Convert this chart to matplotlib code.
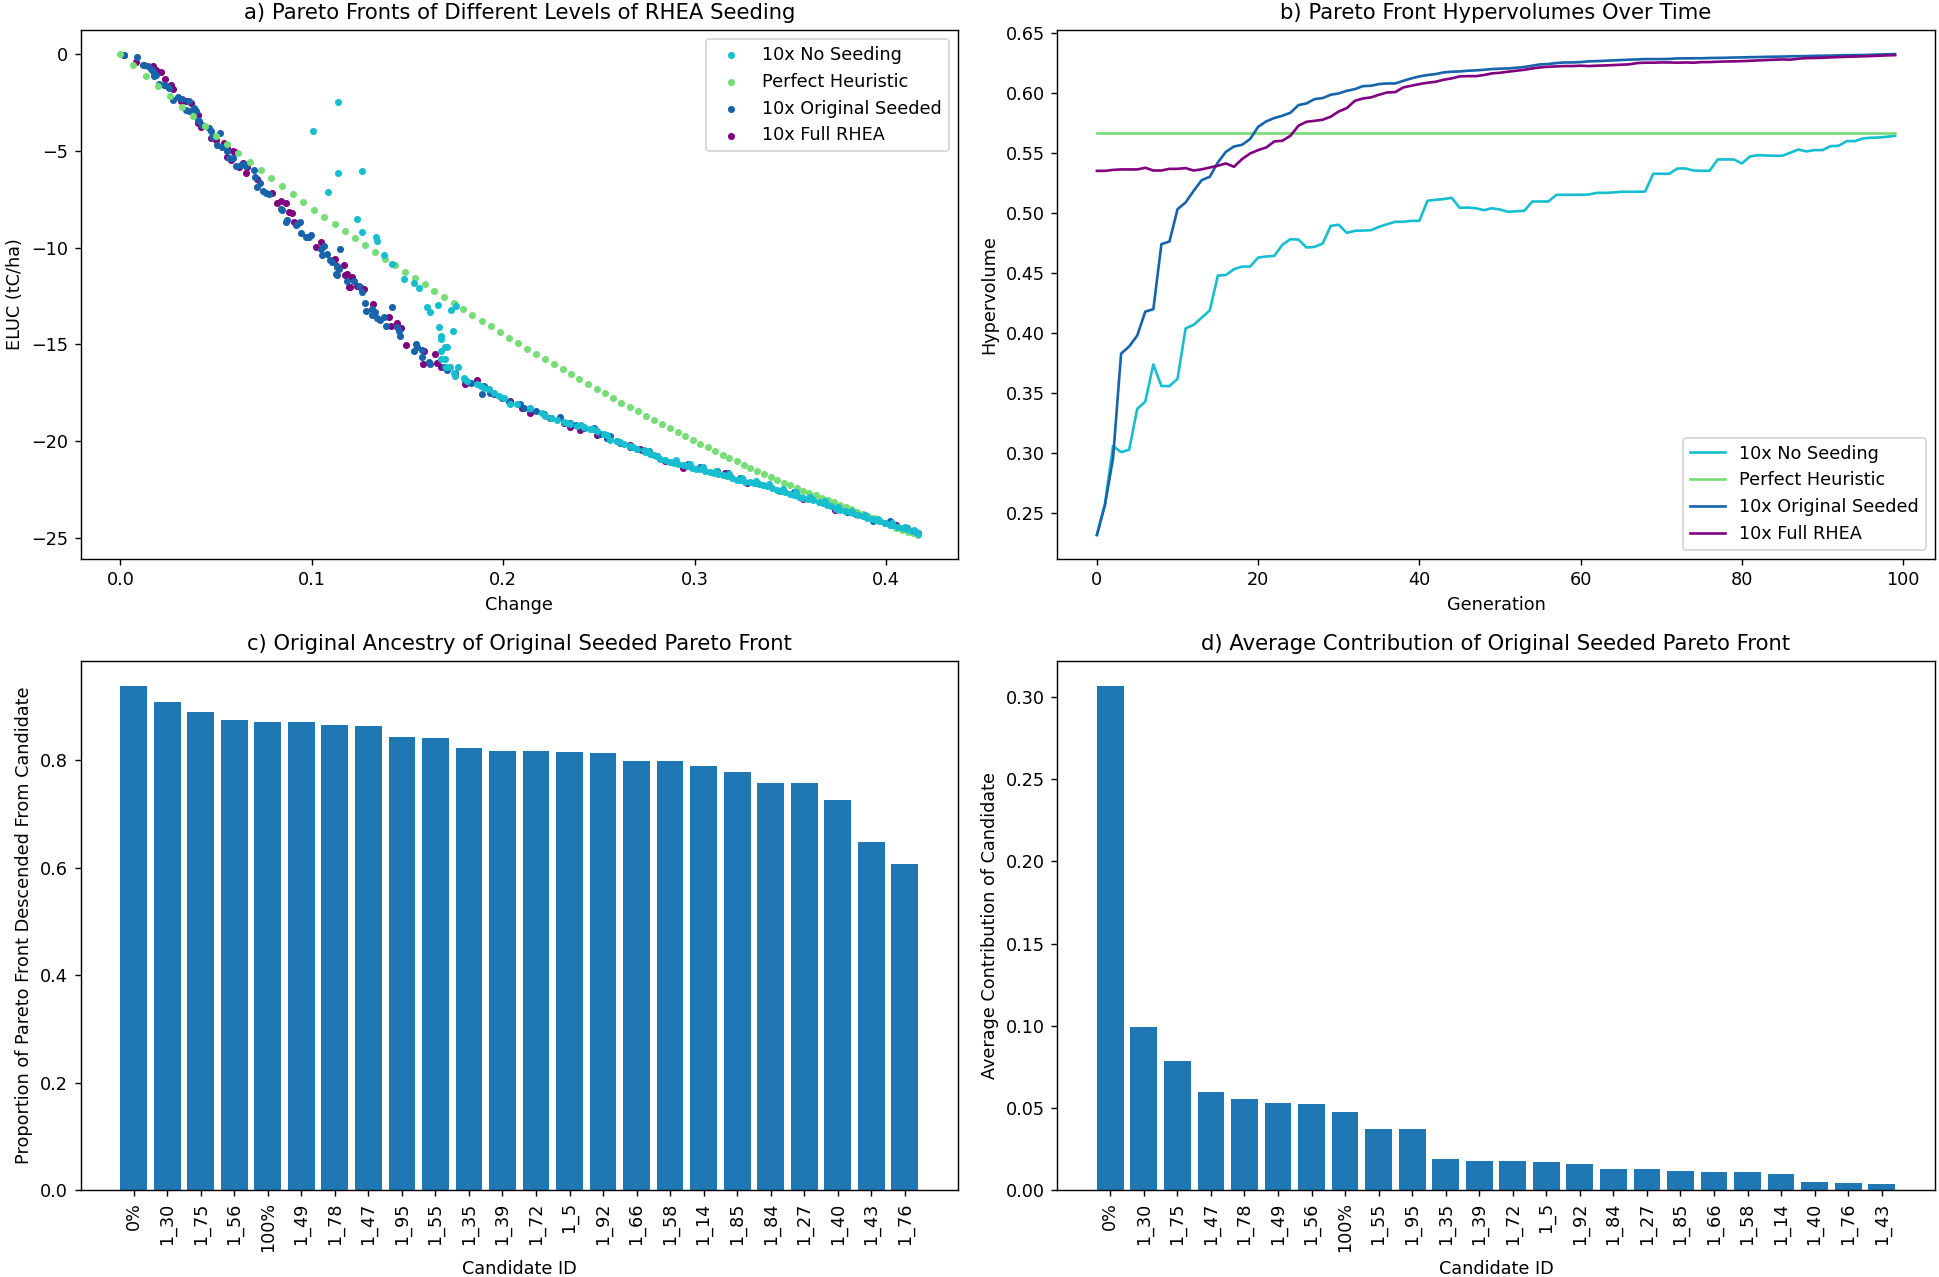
import matplotlib
matplotlib.use("Agg")
import matplotlib.pyplot as plt

# ---------------- Panel a data (Change, ELUC) ----------------
heur_x = [0.0, 0.0068, 0.0133, 0.0198, 0.0261, 0.0321, 0.0382, 0.0441, 0.0499, 0.0559,
          0.0617, 0.0676, 0.0733, 0.0789, 0.0844, 0.0900, 0.0956, 0.1011, 0.1065, 0.1119,
          0.1174, 0.1227, 0.1280, 0.1331, 0.1384, 0.1437, 0.1486, 0.1538, 0.1591, 0.1641,
          0.1692, 0.1742, 0.1791, 0.1839, 0.1888, 0.1937, 0.1984, 0.2032, 0.2078, 0.2125,
          0.2171, 0.2219, 0.2263, 0.2311, 0.2354, 0.2398, 0.2444, 0.2488, 0.2531, 0.2574,
          0.2618, 0.2662, 0.2706, 0.2748, 0.2789, 0.2829, 0.2871, 0.2911, 0.2951, 0.2991,
          0.3031, 0.3071, 0.3107, 0.3146, 0.3182, 0.3220, 0.3257, 0.3292, 0.3328, 0.3363,
          0.3398, 0.3431, 0.3467, 0.3500, 0.3533, 0.3566, 0.3600, 0.3632, 0.3664, 0.3695,
          0.3726, 0.3758, 0.3789, 0.3819, 0.3848, 0.3878, 0.3907, 0.3937, 0.3966, 0.3996,
          0.4026, 0.4055, 0.4085, 0.4113, 0.4140, 0.4168]
heur_y = [0.0, -0.58, -1.15, -1.67, -2.19, -2.71, -3.21, -3.73, -4.21, -4.66,
          -5.13, -5.58, -6.01, -6.42, -6.84, -7.25, -7.65, -8.05, -8.41, -8.79,
          -9.15, -9.52, -9.86, -10.23, -10.57, -10.90, -11.25, -11.58, -11.90, -12.23,
          -12.54, -12.85, -13.18, -13.48, -13.77, -14.07, -14.36, -14.65, -14.93, -15.21,
          -15.48, -15.76, -16.02, -16.28, -16.54, -16.80, -17.05, -17.28, -17.52, -17.76,
          -18.01, -18.23, -18.45, -18.68, -18.91, -19.12, -19.34, -19.53, -19.74, -19.94,
          -20.13, -20.32, -20.51, -20.69, -20.86, -21.03, -21.21, -21.36, -21.53, -21.69,
          -21.84, -22.00, -22.14, -22.28, -22.42, -22.55, -22.67, -22.80, -22.92, -23.04,
          -23.16, -23.28, -23.40, -23.52, -23.64, -23.76, -23.87, -23.99, -24.11, -24.21,
          -24.33, -24.46, -24.56, -24.67, -24.75, -24.84]

noseed_x = [0.1138, 0.1006, 0.1136, 0.1263, 0.1087, 0.1234, 0.1260, 0.1333, 0.1342, 0.1377,
            0.1420, 0.1481, 0.1533, 0.1559, 0.1600, 0.1617, 0.1658, 0.1730, 0.1756, 0.1667,
            0.1738, 0.1676, 0.1676, 0.1695, 0.1707, 0.1673, 0.1676, 0.1695, 0.1699, 0.1724,
            0.1762, 0.1742, 0.1750, 0.1795, 0.1812, 0.1863, 0.1882, 0.1899, 0.1925, 0.1950,
            0.1977, 0.2003, 0.2037, 0.2072, 0.2142, 0.2203, 0.2220, 0.2281, 0.2316, 0.2350,
            0.2386, 0.2420, 0.2454, 0.2490, 0.2525, 0.2559, 0.2595, 0.2629, 0.2664, 0.2699,
            0.2734, 0.2740, 0.2768, 0.2790, 0.2820, 0.2845, 0.2870, 0.2890, 0.2915, 0.2940,
            0.2960, 0.2985, 0.3010, 0.3029, 0.3055, 0.3080, 0.3099, 0.3125, 0.3150, 0.3168,
            0.3195, 0.3220, 0.3238, 0.3265, 0.3290, 0.3308, 0.3335, 0.3360, 0.3377, 0.3405,
            0.3430, 0.3447, 0.3475, 0.3500, 0.3517, 0.3545, 0.3569, 0.3595, 0.3620, 0.3650,
            0.3670, 0.3690, 0.3715, 0.3740, 0.3760, 0.3785, 0.3810, 0.3830, 0.3855, 0.3880,
            0.3899, 0.3925, 0.3950, 0.3969, 0.3995, 0.4020, 0.4038, 0.4065, 0.4090, 0.4108,
            0.4135, 0.4155, 0.4168,
            0.2250, 0.2335, 0.2405, 0.2470, 0.2540, 0.2610, 0.2680, 0.2755, 0.2805, 0.2905,
            0.2975, 0.3045, 0.3110, 0.3180, 0.3250, 0.3320, 0.3390, 0.3460, 0.3530, 0.3605,
            0.3680, 0.3750, 0.3820, 0.3890, 0.3960, 0.4030, 0.4100, 0.4145]
noseed_y = [-2.50, -3.97, -6.13, -6.06, -7.11, -8.53, -9.19, -9.45, -9.67, -10.40,
            -10.87, -11.61, -11.82, -12.08, -13.04, -13.31, -12.98, -13.24, -13.03, -14.12,
            -14.31, -14.55, -14.74, -15.12, -15.12, -15.33, -15.76, -15.76, -16.16, -16.19,
            -16.16, -16.45, -16.62, -16.74, -16.88, -17.06, -17.14, -17.23, -17.31, -17.49,
            -17.66, -17.75, -18.09, -18.06, -18.30, -18.53, -18.70, -18.92, -18.99, -19.10,
            -19.22, -19.27, -19.39, -19.48, -19.65, -19.91, -20.00, -20.13, -20.25, -20.38,
            -20.43, -20.55, -20.66, -20.72, -20.90, -20.98, -21.05, -21.10, -21.18, -21.22,
            -21.28, -21.36, -21.42, -21.45, -21.55, -21.60, -21.64, -21.70, -21.75, -21.80,
            -21.92, -21.98, -22.02, -22.08, -22.12, -22.16, -22.22, -22.28, -22.33, -22.42,
            -22.50, -22.55, -22.63, -22.70, -22.78, -22.86, -22.92, -22.97, -23.02, -23.12,
            -23.20, -23.28, -23.36, -23.48, -23.54, -23.60, -23.66, -23.71, -23.80, -23.88,
            -23.94, -24.02, -24.08, -24.14, -24.22, -24.30, -24.35, -24.42, -24.50, -24.54,
            -24.62, -24.70, -24.77,
            -18.78, -19.05, -19.18, -19.35, -19.70, -20.05, -20.28, -20.50, -20.78, -20.98,
            -21.20, -21.35, -21.52, -21.70, -21.90, -22.05, -22.20, -22.45, -22.62, -22.88,
            -23.10, -23.42, -23.60, -23.82, -24.02, -24.22, -24.45, -24.60]

orig_x = [0.0017, 0.0087, 0.0116, 0.0142, 0.0160, 0.0168, 0.0177, 0.0186, 0.0174, 0.0203,
          0.0229, 0.0246, 0.0255, 0.0273, 0.0299, 0.0324, 0.0360, 0.0342, 0.0360, 0.0386,
          0.0394, 0.0403, 0.0411, 0.0429, 0.0464, 0.0473, 0.0481, 0.0521, 0.0507, 0.0533,
          0.0555, 0.0568, 0.0591, 0.0603, 0.0629, 0.0646, 0.0655, 0.0699, 0.0702, 0.0712,
          0.0730, 0.0747, 0.0759, 0.0777, 0.0837, 0.0846, 0.0863, 0.0873, 0.0916, 0.0938,
          0.0942, 0.0969, 0.0986, 0.0994, 0.1046, 0.1055, 0.1063, 0.1081, 0.1095, 0.1133,
          0.1142, 0.1130, 0.1150, 0.1186, 0.1220, 0.1246, 0.1263, 0.1107, 0.1133, 0.1128,
          0.1276, 0.1281, 0.1316, 0.1330, 0.1316, 0.1342, 0.1359, 0.1377, 0.1386, 0.1417,
          0.1446, 0.1455, 0.1463, 0.1542, 0.1550, 0.1533, 0.1577, 0.1577, 0.1612, 0.1620,
          0.1690, 0.1707, 0.1750, 0.1803, 0.1830, 0.1891, 0.1899, 0.1930, 0.1994, 0.2030,
          0.2090, 0.2107, 0.2142, 0.2170, 0.2212, 0.2250, 0.2299, 0.2350, 0.2380, 0.2420,
          0.2472, 0.2507, 0.2540, 0.2559, 0.2612, 0.2663, 0.2700, 0.2760, 0.2803, 0.2890,
          0.2968, 0.3029, 0.3116, 0.3177, 0.3238, 0.3325, 0.3464, 0.3517, 0.3612, 0.3673,
          0.3760, 0.3795, 0.3934, 0.4021, 0.4108, 0.4168]
orig_y = [-0.03, -0.16, -0.54, -0.60, -0.77, -0.89, -0.98, -1.10, -1.12, -1.55,
          -1.62, -1.67, -1.76, -2.36, -2.22, -2.33, -2.45, -2.88, -2.96, -2.79,
          -2.96, -3.40, -3.48, -3.66, -3.83, -4.00, -4.26, -4.09, -4.69, -4.78,
          -5.00, -5.39, -5.39, -5.78, -5.73, -5.68, -5.78, -5.99, -6.34, -6.86,
          -6.68, -7.06, -7.17, -7.24, -7.98, -8.07, -8.67, -8.58, -8.84, -8.67,
          -9.24, -9.45, -9.45, -9.33, -10.05, -10.40, -9.93, -10.31, -10.66, -11.00,
          -11.09, -11.40, -10.05, -11.73, -11.70, -11.96, -12.30, -10.74, -10.97, -11.38,
          -12.85, -13.25, -13.16, -13.30, -13.48, -13.63, -13.74, -13.56, -14.03, -13.04,
          -14.12, -14.29, -14.55, -14.98, -15.15, -15.36, -15.29, -15.64, -15.93, -16.02,
          -16.19, -16.33, -16.50, -16.85, -17.00, -17.54, -17.14, -17.50, -17.75, -17.95,
          -18.09, -18.27, -18.35, -18.45, -18.61, -18.80, -18.75, -19.04, -19.15, -19.30,
          -19.30, -19.65, -19.85, -19.74, -20.08, -20.31, -20.40, -20.51, -20.77, -21.07,
          -21.17, -21.34, -21.55, -21.64, -21.90, -22.16, -22.50, -22.62, -22.93, -23.14,
          -23.45, -23.63, -24.11, -24.14, -24.49, -24.75]

full_x = [0.0020, 0.0081, 0.0124, 0.0168, 0.0186, 0.0211, 0.0232, 0.0255, 0.0273, 0.0264,
          0.0316, 0.0342, 0.0368, 0.0403, 0.0420, 0.0408, 0.0473, 0.0499, 0.0542, 0.0559,
          0.0586, 0.0600, 0.0559, 0.0577, 0.0620, 0.0642, 0.0664, 0.0655, 0.0716, 0.0794,
          0.0820, 0.0837, 0.0863, 0.0881, 0.0899, 0.0907, 0.0924, 0.0977, 0.1020, 0.1046,
          0.1116, 0.1168, 0.1182, 0.1211, 0.1199, 0.1237, 0.1254, 0.1271, 0.1119, 0.1172,
          0.1194, 0.1321, 0.1403, 0.1412, 0.1446, 0.1467, 0.1490, 0.1586, 0.1582, 0.1646,
          0.1655, 0.1673, 0.1803, 0.1863, 0.1950, 0.2037, 0.2099, 0.2142, 0.2246, 0.2316,
          0.2350, 0.2403, 0.2490, 0.2542, 0.2595, 0.2664, 0.2716, 0.2725, 0.2846, 0.2942,
          0.3116, 0.3160, 0.3272, 0.3446, 0.3568, 0.3733, 0.3846, 0.3994, 0.4055, 0.4142]
full_y = [-0.04, -0.41, -0.54, -0.63, -0.80, -0.92, -1.27, -1.70, -1.81, -1.58,
          -2.45, -2.41, -2.53, -3.14, -3.78, -3.57, -4.35, -4.43, -4.61, -4.87,
          -5.00, -5.04, -5.30, -5.47, -5.85, -5.61, -5.82, -6.13, -6.47, -7.20,
          -7.68, -7.60, -7.68, -8.15, -8.20, -8.67, -8.76, -9.45, -9.97, -9.71,
          -10.66, -10.92, -11.35, -11.52, -12.04, -11.96, -12.04, -12.13, -10.57, -11.40,
          -12.04, -12.91, -13.60, -14.03, -13.91, -14.17, -15.03, -15.36, -16.02, -15.50,
          -15.98, -16.16, -17.06, -16.85, -17.57, -17.92, -18.27, -18.53, -18.79, -19.04,
          -19.27, -19.44, -19.68, -19.82, -20.00, -20.17, -20.38, -20.43, -21.03, -21.38,
          -21.59, -21.64, -22.16, -22.59, -22.97, -23.54, -23.77, -24.23, -24.35, -24.66]

# ---------------- Panel b data (hypervolume per generation) ----------------
generations = list(range(100))
hv_noseed = [0.232, 0.258, 0.306, 0.301, 0.303, 0.337, 0.343, 0.374, 0.356, 0.356,
             0.362, 0.404, 0.407, 0.413, 0.419, 0.448, 0.4485, 0.4533, 0.4555, 0.4555,
             0.463, 0.4639, 0.4644, 0.4736, 0.4783, 0.478, 0.4714, 0.4719, 0.4747, 0.4894,
             0.4903, 0.4836, 0.4853, 0.4855, 0.4858, 0.4886, 0.4908, 0.4928, 0.4928, 0.4936,
             0.4936, 0.5103, 0.5111, 0.5117, 0.5128, 0.5044, 0.5047, 0.5041, 0.5025, 0.5041,
             0.5030, 0.5011, 0.5016, 0.5019, 0.5097, 0.5097, 0.5097, 0.5153, 0.5153, 0.5153,
             0.5153, 0.5155, 0.5169, 0.5169, 0.5172, 0.5178, 0.5178, 0.5178, 0.518, 0.5328,
             0.5328, 0.5328, 0.5372, 0.5372, 0.5355, 0.5353, 0.5353, 0.5447, 0.5447, 0.5447,
             0.5414, 0.5472, 0.5483, 0.548, 0.5478, 0.5478, 0.5503, 0.553, 0.5514, 0.5525,
             0.5525, 0.5558, 0.5561, 0.56, 0.56, 0.5622, 0.5628, 0.563, 0.5636, 0.5644]
hv_heuristic = 0.5664
hv_original = [0.232, 0.257, 0.296, 0.383, 0.389, 0.398, 0.418, 0.420, 0.4742, 0.4764,
               0.5033, 0.5089, 0.5186, 0.5275, 0.5303, 0.5422, 0.5511, 0.5555, 0.5569, 0.5617,
               0.5719, 0.5764, 0.5792, 0.5811, 0.5836, 0.5900, 0.5914, 0.5950, 0.5958, 0.5986,
               0.5997, 0.6019, 0.6033, 0.6058, 0.6061, 0.6075, 0.6080, 0.6080, 0.6102, 0.6122,
               0.6139, 0.6150, 0.6158, 0.6172, 0.6178, 0.6180, 0.6186, 0.6189, 0.6194, 0.6200,
               0.6203, 0.6205, 0.6211, 0.6217, 0.6228, 0.6239, 0.6242, 0.6250, 0.6255, 0.6255,
               0.6258, 0.6264, 0.6266, 0.6269, 0.6272, 0.6275, 0.6278, 0.6280, 0.6283, 0.6283,
               0.6283, 0.6284, 0.6289, 0.6289, 0.6290, 0.6290, 0.6292, 0.6293, 0.6294, 0.6296,
               0.6297, 0.6299, 0.6300, 0.6302, 0.6303, 0.6304, 0.6306, 0.6307, 0.6308, 0.6310,
               0.6311, 0.6312, 0.6314, 0.6315, 0.6316, 0.6317, 0.6319, 0.6321, 0.6323, 0.6325]
hv_full = [0.5352, 0.5352, 0.5360, 0.5364, 0.5364, 0.5364, 0.5378, 0.5355, 0.5355, 0.5369,
           0.5369, 0.5375, 0.5355, 0.5365, 0.5380, 0.5395, 0.5414, 0.5386, 0.5450, 0.5497,
           0.5525, 0.5547, 0.5597, 0.5603, 0.5644, 0.5728, 0.5761, 0.5769, 0.5778, 0.5803,
           0.5847, 0.5875, 0.5936, 0.5955, 0.5964, 0.5986, 0.6005, 0.6008, 0.6047, 0.6061,
           0.6075, 0.6086, 0.6094, 0.6111, 0.6122, 0.6139, 0.6141, 0.6141, 0.6150, 0.6164,
           0.6169, 0.6178, 0.6186, 0.6194, 0.6205, 0.6214, 0.6219, 0.6222, 0.6225, 0.6225,
           0.6228, 0.6225, 0.6228, 0.6230, 0.6233, 0.6236, 0.6239, 0.6250, 0.6253, 0.6253,
           0.6255, 0.6255, 0.6253, 0.6255, 0.6253, 0.6258, 0.6258, 0.6261, 0.6263, 0.6264,
           0.6266, 0.6269, 0.6272, 0.6275, 0.6278, 0.6280, 0.6278, 0.6286, 0.6291, 0.6292,
           0.6294, 0.6297, 0.6300, 0.6302, 0.6304, 0.6306, 0.6308, 0.6311, 0.6314, 0.6316]

# ---------------- Panel c data ----------------
ancestry_ids = ["0%", "1_30", "1_75", "1_56", "100%", "1_49", "1_78", "1_47", "1_95", "1_55",
                "1_35", "1_39", "1_72", "1_5", "1_92", "1_66", "1_58", "1_14", "1_85", "1_84",
                "1_27", "1_40", "1_43", "1_76"]
ancestry_vals = [0.938, 0.908, 0.890, 0.8745, 0.8705, 0.8705, 0.866, 0.8635, 0.843, 0.8407,
                 0.8227, 0.818, 0.818, 0.815, 0.814, 0.799, 0.799, 0.789, 0.779, 0.757,
                 0.757, 0.726, 0.6485, 0.607]

# ---------------- Panel d data ----------------
contrib_ids = ["0%", "1_30", "1_75", "1_47", "1_78", "1_49", "1_56", "100%", "1_55", "1_95",
               "1_35", "1_39", "1_72", "1_5", "1_92", "1_84", "1_27", "1_85", "1_66", "1_58",
               "1_14", "1_40", "1_76", "1_43"]
contrib_vals = [0.3066, 0.0993, 0.0787, 0.0597, 0.0554, 0.0531, 0.0526, 0.0477, 0.0374, 0.0369,
                0.0187, 0.0177, 0.0177, 0.0172, 0.0161, 0.0126, 0.0126, 0.0113, 0.0108, 0.0108,
                0.0097, 0.0046, 0.0041, 0.0038]

C_CYAN = "#17becf"
C_GREEN = "#77dd77"
C_BLUE = "#1764ab"
C_PURPLE = "#800080"

W, H = 1939, 1277
DPI = 127
fig = plt.figure(figsize=(W / DPI, H / DPI), dpi=DPI)


def axes_px(left, top, right, bottom):
    return fig.add_axes([left / W, 1 - bottom / H, (right - left) / W, (bottom - top) / H])


ax_a = axes_px(80.5, 30, 958, 559)
ax_b = axes_px(1057, 30, 1935, 559)
ax_c = axes_px(80.5, 661, 958, 1190)
ax_d = axes_px(1057, 661, 1935, 1190)

S = 9
ax_a.scatter(noseed_x, noseed_y, s=S, color=C_CYAN, label="10x No Seeding", zorder=5)
ax_a.scatter(heur_x, heur_y, s=S, color=C_GREEN, label="Perfect Heuristic", zorder=4)
ax_a.scatter(orig_x, orig_y, s=S, color=C_BLUE, label="10x Original Seeded", zorder=3)
ax_a.scatter(full_x, full_y, s=S, color=C_PURPLE, label="10x Full RHEA", zorder=2)
ax_a.set_title("a) Pareto Fronts of Different Levels of RHEA Seeding")
ax_a.set_xlabel("Change")
ax_a.set_ylabel("ELUC (tC/ha)")
ax_a.legend(loc="upper right", scatterpoints=1)

ax_b.plot(generations, hv_noseed, color=C_CYAN, label="10x No Seeding")
ax_b.plot([generations[0], generations[-1]], [hv_heuristic, hv_heuristic],
          color=C_GREEN, label="Perfect Heuristic")
ax_b.plot(generations, hv_original, color=C_BLUE, label="10x Original Seeded")
ax_b.plot(generations, hv_full, color=C_PURPLE, label="10x Full RHEA")
ax_b.set_title("b) Pareto Front Hypervolumes Over Time")
ax_b.set_xlabel("Generation")
ax_b.set_ylabel("Hypervolume")
ax_b.legend(loc="lower right")

ax_c.bar(ancestry_ids, ancestry_vals, color="#1f77b4")
ax_c.set_title("c) Original Ancestry of Original Seeded Pareto Front")
ax_c.set_xlabel("Candidate ID")
ax_c.set_ylabel("Proportion of Pareto Front Descended From Candidate")
ax_c.tick_params(axis="x", labelrotation=90)

ax_d.bar(contrib_ids, contrib_vals, color="#1f77b4")
ax_d.set_title("d) Average Contribution of Original Seeded Pareto Front")
ax_d.set_xlabel("Candidate ID")
ax_d.set_ylabel("Average Contribution of Candidate")
ax_d.tick_params(axis="x", labelrotation=90)

fig.savefig("out.png", dpi=DPI)
